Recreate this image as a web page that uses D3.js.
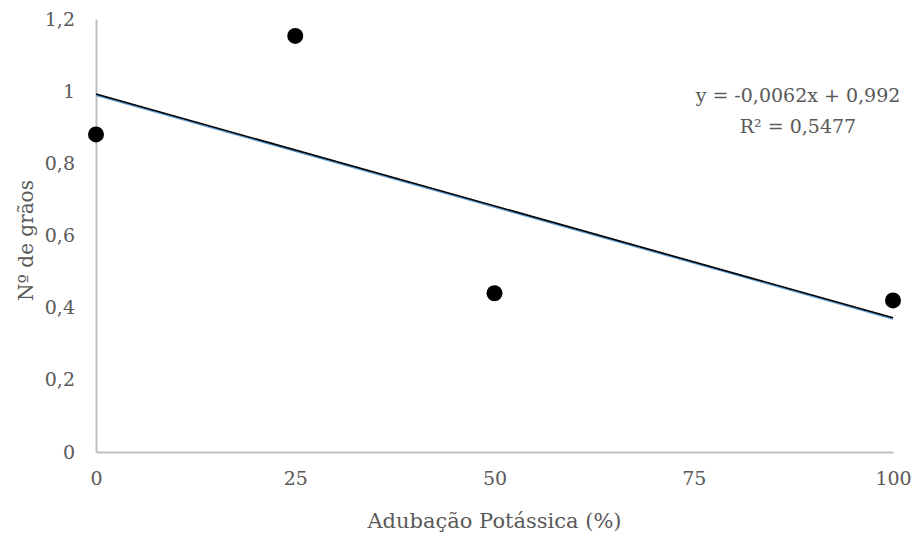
<!DOCTYPE html>
<html>
  <head>
    <script src="https://cdn.jsdelivr.net/npm/d3@7"></script>
    <style>
      body { margin: 0; background: #fff; }
    </style>
  </head>
  <body>
    <svg width="916" height="533" id="mainsvg"></svg>
    <script>
      const doses = [0, 25, 50, 100];
      const graos = [0.88, 1.153, 0.44, 0.42];
      const xTicks = [0, 25, 50, 75, 100];
      const yTicks = [0, 0.2, 0.4, 0.6, 0.8, 1, 1.2];
      const slope = -0.0062;
      const intercept = 0.992;
      const eqLines = ['y = -0,0062x + 0,992', 'R² = 0,5477'];

      const serif = '"DejaVu Serif", serif';

      const svg = d3.select('#mainsvg');
      const margin = {top: 19, right: 23, bottom: 81, left: 96};
      const width = +svg.attr('width');
      const height = +svg.attr('height');
      const innerWidth = width - margin.left - margin.right;
      const innerHeight = height - margin.top - margin.bottom;

      const g = svg.append('g')
        .attr('transform', `translate(${margin.left}, ${margin.top})`);

      const xScale = d3.scaleLinear().domain([0, 100]).range([0, innerWidth]);
      const yScale = d3.scaleLinear().domain([0, 1.2]).range([innerHeight, 0]);
      const fmt = d => String(d).replace('.', ',');

      const xAxis = d3.axisBottom(xScale).tickValues(xTicks).tickFormat(fmt)
        .tickSize(0).tickPadding(20);
      const yAxis = d3.axisLeft(yScale).tickValues(yTicks).tickFormat(fmt)
        .tickSize(0).tickPadding(21);

      const xg = g.append('g').attr('transform', `translate(0, ${innerHeight})`).call(xAxis);
      const yg = g.append('g').call(yAxis);
      [xg, yg].forEach(a => {
        a.attr('font-family', serif).attr('font-size', 19);
        a.select('.domain').attr('stroke', '#bfbfbf').attr('stroke-width', 2);
        a.selectAll('text').attr('fill', '#595959');
      });

      // linha de tendência
      const trend = [0, 100].map(x => [x, intercept + slope * x]);
      const line = d3.line().x(d => xScale(d[0])).y(d => yScale(d[1]));
      g.append('path').datum(trend).attr('d', line)
        .attr('fill', 'none').attr('stroke', '#5b9bd5').attr('stroke-width', 2)
        .attr('transform', 'translate(0, 1)');
      g.append('path').datum(trend).attr('d', line)
        .attr('fill', 'none').attr('stroke', '#000').attr('stroke-width', 1.6);

      // pontos
      g.selectAll('circle').data(doses).join('circle')
        .attr('cx', d => xScale(d))
        .attr('cy', (d, i) => yScale(graos[i]))
        .attr('r', 8)
        .attr('fill', '#000');

      // equação
      svg.append('g').selectAll('text').data(eqLines).join('text')
        .attr('x', 798)
        .attr('y', (d, i) => 102 + i * 31)
        .attr('text-anchor', 'middle')
        .attr('font-family', serif)
        .attr('font-size', 19)
        .attr('fill', '#595959')
        .text(d => d);

      // títulos dos eixos
      svg.append('text')
        .attr('x', margin.left + innerWidth / 2)
        .attr('y', 528)
        .attr('text-anchor', 'middle')
        .attr('font-family', serif)
        .attr('font-size', 21)
        .attr('fill', '#595959')
        .text('Adubação Potássica (%)');
      svg.append('text')
        .attr('transform', `translate(33, ${margin.top + innerHeight / 2 + 5}) rotate(-90)`)
        .attr('text-anchor', 'middle')
        .attr('font-family', serif)
        .attr('font-size', 20)
        .attr('fill', '#595959')
        .text('Nº de grãos');
    </script>
  </body>
</html>
